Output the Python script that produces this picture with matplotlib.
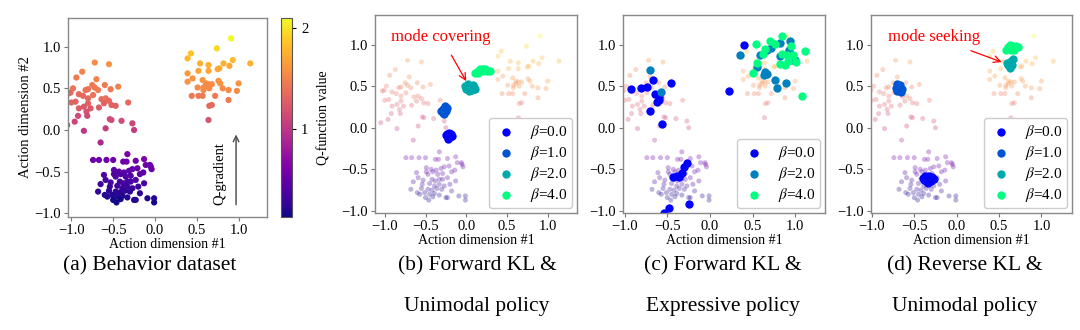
import matplotlib.pyplot as plt
import numpy as np

plt.rcParams["font.family"] = ["Liberation Serif", "DejaVu Serif"]
plt.rcParams["mathtext.fontset"] = "stix"

# -------------------------------------------------------------------
# Behavior dataset, columns: action #1, action #2, Q-value
# -------------------------------------------------------------------
upper_left = np.array([
    [-0.72, 0.81, 1.55], [-0.55, 0.79, 1.60], [-0.87, 0.70, 1.50], [-0.94, 0.63, 1.45],
    [-0.70, 0.61, 1.50], [-0.60, 0.54, 1.45], [-0.75, 0.54, 1.45], [-0.72, 0.51, 1.45],
    [-0.44, 0.52, 1.50], [-0.98, 0.50, 1.40], [-0.83, 0.48, 1.40], [-0.80, 0.49, 1.40],
    [-0.53, 0.49, 1.45], [-1.03, 0.44, 1.35], [-1.01, 0.45, 1.35], [-0.91, 0.43, 1.35],
    [-0.86, 0.41, 1.35], [-0.68, 0.48, 1.45], [-0.80, 0.38, 1.35], [-0.74, 0.42, 1.40],
    [-0.64, 0.37, 1.35], [-0.59, 0.38, 1.40], [-0.55, 0.35, 1.35], [-0.61, 0.32, 1.30],
    [-0.52, 0.30, 1.30], [-0.47, 0.29, 1.30], [-0.32, 0.33, 1.35], [-1.00, 0.33, 1.30],
    [-0.95, 0.34, 1.30], [-0.91, 0.26, 1.25], [-0.85, 0.28, 1.25], [-0.80, 0.32, 1.30],
    [-0.77, 0.26, 1.25], [-0.82, 0.22, 1.20], [-0.67, 0.27, 1.25], [-0.92, 0.17, 1.15],
    [-0.81, 0.17, 1.15], [-0.54, 0.13, 1.15], [-0.52, 0.12, 1.15], [-0.40, 0.11, 1.15],
    [-0.96, 0.10, 1.10], [-1.05, 0.06, 1.05], [-0.27, 0.08, 1.10], [-0.59, 0.02, 1.05],
    [-0.85, -0.01, 1.00], [-0.25, 0.00, 1.05], [-0.65, -0.15, 0.90],
])

upper_right = np.array([
    [0.91, 1.10, 2.10], [0.74, 0.98, 1.95], [0.43, 0.92, 1.85], [0.39, 0.86, 1.80],
    [0.54, 0.80, 1.75], [0.64, 0.78, 1.75], [0.82, 0.80, 1.75], [0.93, 0.84, 1.80],
    [1.14, 0.80, 1.75], [0.89, 0.77, 1.70], [0.77, 0.74, 1.70], [0.75, 0.73, 1.70],
    [0.64, 0.71, 1.70], [0.52, 0.71, 1.70], [0.39, 0.68, 1.65], [0.45, 0.62, 1.60],
    [0.39, 0.58, 1.60], [0.57, 0.60, 1.60], [0.61, 0.56, 1.60], [0.76, 0.59, 1.60],
    [0.78, 0.56, 1.60], [1.00, 0.56, 1.60], [0.51, 0.51, 1.55], [0.58, 0.51, 1.55],
    [0.61, 0.53, 1.55], [0.64, 0.55, 1.55], [0.68, 0.55, 1.55], [0.58, 0.48, 1.55],
    [0.65, 0.50, 1.55], [0.81, 0.50, 1.55], [0.88, 0.48, 1.55], [0.98, 0.47, 1.55],
    [0.44, 0.41, 1.45], [0.52, 0.41, 1.45], [0.57, 0.41, 1.45], [0.72, 0.41, 1.45],
    [0.88, 0.36, 1.45], [0.65, 0.29, 1.35], [0.68, 0.30, 1.35], [0.64, 0.12, 1.20],
])

lower = np.array([
    [-0.33, -0.29, 0.60], [-0.74, -0.36, 0.55], [-0.67, -0.36, 0.55], [-0.58, -0.36, 0.55],
    [-0.50, -0.36, 0.55], [-0.38, -0.38, 0.55], [-0.34, -0.38, 0.55], [-0.23, -0.37, 0.55],
    [-0.13, -0.35, 0.60], [-0.11, -0.42, 0.55], [-0.06, -0.42, 0.55], [-0.49, -0.48, 0.45],
    [-0.43, -0.50, 0.45], [-0.37, -0.51, 0.45], [-0.31, -0.49, 0.45], [-0.27, -0.47, 0.50],
    [-0.21, -0.46, 0.50], [-0.05, -0.44, 0.50], [-0.04, -0.47, 0.50], [-0.61, -0.54, 0.40],
    [-0.49, -0.53, 0.40], [-0.47, -0.56, 0.40], [-0.41, -0.53, 0.40], [-0.35, -0.56, 0.40],
    [-0.29, -0.55, 0.40], [-0.18, -0.53, 0.45], [-0.14, -0.51, 0.45], [-0.59, -0.60, 0.35],
    [-0.53, -0.63, 0.35], [-0.42, -0.62, 0.35], [-0.38, -0.64, 0.35], [-0.33, -0.62, 0.35],
    [-0.29, -0.62, 0.35], [-0.23, -0.60, 0.40], [-0.13, -0.64, 0.35], [-0.65, -0.65, 0.30],
    [-0.54, -0.68, 0.30], [-0.45, -0.67, 0.30], [-0.39, -0.70, 0.30], [-0.33, -0.68, 0.30],
    [-0.27, -0.70, 0.30], [-0.20, -0.68, 0.30], [-0.68, -0.74, 0.25], [-0.55, -0.73, 0.25],
    [-0.47, -0.74, 0.25], [-0.42, -0.75, 0.25], [-0.36, -0.73, 0.25], [-0.30, -0.74, 0.25],
    [-0.18, -0.76, 0.25], [-0.60, -0.78, 0.20], [-0.57, -0.80, 0.20], [-0.51, -0.78, 0.20],
    [-0.45, -0.80, 0.20], [-0.39, -0.79, 0.20], [-0.33, -0.81, 0.20], [-0.50, -0.84, 0.15],
    [-0.46, -0.87, 0.15], [-0.41, -0.83, 0.15], [-0.25, -0.84, 0.20], [-0.23, -0.84, 0.20],
    [-0.09, -0.82, 0.20], [-0.01, -0.82, 0.20], [-0.01, -0.87, 0.15],
])

behavior = np.vstack([upper_left, upper_right, lower])
Q_MIN, Q_MAX = 0.13, 2.1

# -------------------------------------------------------------------
# Policy samples
# -------------------------------------------------------------------
betas_4 = ["0.0", "1.0", "2.0", "4.0"]
betas_3 = ["0.0", "2.0", "4.0"]
colors_4 = ["#0000ff", "#0055d4", "#00aaaa", "#00ff80"]
colors_3 = ["#0000ff", "#0080bf", "#00ff80"]

fwd_uni = [
    np.array([[-0.24, -0.07], [-0.21, -0.06], [-0.19, -0.08], [-0.23, -0.10],
              [-0.20, -0.11], [-0.22, -0.13], [-0.25, -0.09], [-0.18, -0.10]]),
    np.array([[-0.29, 0.18], [-0.27, 0.17], [-0.25, 0.20], [-0.24, 0.24],
              [-0.26, 0.26], [-0.29, 0.22], [-0.31, 0.20], [-0.27, 0.22]]),
    np.array([[-0.02, 0.50], [0.02, 0.52], [0.06, 0.50], [0.10, 0.49], [0.11, 0.46],
              [0.07, 0.45], [0.03, 0.44], [0.00, 0.47], [0.08, 0.51]]),
    np.array([[0.11, 0.66], [0.14, 0.68], [0.17, 0.70], [0.20, 0.71], [0.23, 0.70],
              [0.26, 0.68], [0.29, 0.68], [0.21, 0.68], [0.15, 0.66]]),
]

fwd_expr = [
    np.array([[-0.93, 0.47], [-0.81, 0.48], [-0.74, 0.49], [-0.67, 0.57], [-0.46, 0.54],
              [-0.64, 0.40], [-0.60, 0.37], [-0.62, 0.31], [-0.70, 0.20], [-0.56, 0.04],
              [0.40, 1.00], [0.22, 0.44], [-0.27, -0.42], [-0.30, -0.47], [-0.39, -0.58],
              [-0.33, -0.55], [-0.36, -0.59], [-0.43, -0.59], [-0.25, -0.92],
              [-0.48, -0.97], [-0.54, -1.02], [-0.60, 0.33]]),
    np.array([[-0.70, 0.69], [-0.58, 0.43], [0.35, 0.87], [0.59, 0.88], [0.67, 0.94],
              [0.72, 0.96], [0.82, 1.02], [0.94, 1.04], [0.93, 0.94], [1.00, 0.82],
              [0.96, 0.81], [0.82, 0.86], [0.65, 0.67], [0.64, 0.63], [0.55, 0.73],
              [0.76, 0.57], [0.79, 0.48], [0.89, 0.54], [0.67, 0.64]]),
    np.array([[0.54, 1.01], [0.65, 0.95], [0.71, 1.04], [0.76, 1.01], [0.85, 1.10],
              [0.95, 0.98], [0.84, 0.89], [0.90, 0.87], [0.92, 0.80], [0.82, 0.77],
              [0.88, 0.75], [1.01, 0.79], [1.12, 0.92], [1.08, 0.38], [0.55, 0.78],
              [0.50, 0.66], [0.62, 0.89], [0.98, 0.87]]),
]

rev_uni = [
    np.array([[-0.40, -0.60], [-0.37, -0.58], [-0.33, -0.58], [-0.29, -0.59], [-0.27, -0.62],
              [-0.30, -0.64], [-0.35, -0.65], [-0.38, -0.63], [-0.33, -0.62], [-0.34, -0.67]]),
    np.array([[-0.70, 0.52], [-0.67, 0.51], [-0.72, 0.48], [-0.68, 0.47],
              [-0.65, 0.47], [-0.70, 0.44], [-0.66, 0.43]]),
    np.array([[0.59, 0.78], [0.62, 0.76], [0.64, 0.80], [0.66, 0.83],
              [0.63, 0.72], [0.60, 0.75], [0.65, 0.76]]),
    np.array([[0.58, 0.93], [0.61, 0.97], [0.63, 0.99], [0.66, 0.98],
              [0.70, 0.98], [0.68, 0.94], [0.64, 0.93], [0.72, 0.97]]),
]

captions = [
    ["(a) Behavior dataset"],
    ["(b) Forward KL &", "Unimodal policy"],
    ["(c) Forward KL &", "Expressive policy"],
    ["(d) Reverse KL &", "Unimodal policy"],
]

W, H = 1080, 330


def px_axes(fig, left, right, top, bottom):
    return fig.add_axes([left / W, 1 - bottom / H, (right - left) / W, (bottom - top) / H])


def style(ax, xlim, ylim):
    ax.set_xlim(*xlim)
    ax.set_ylim(*ylim)
    ax.set_xticks([-1.0, -0.5, 0.0, 0.5, 1.0])
    ax.set_yticks([-1.0, -0.5, 0.0, 0.5, 1.0])
    ax.tick_params(labelsize=10.5, length=3, color="#777777", pad=2)
    for s in ax.spines.values():
        s.set_color("#888888")
        s.set_linewidth(1.0)
    ax.set_xlabel("Action dimension #1", fontsize=10, labelpad=1)


def background(ax):
    ax.scatter(behavior[:, 0], behavior[:, 1], c=behavior[:, 2], cmap="plasma",
               vmin=Q_MIN, vmax=Q_MAX, s=13, alpha=0.3, linewidths=0)


def policy(ax, groups, betas, colors):
    for pts, b, c in zip(groups, betas, colors):
        ax.scatter(pts[:, 0], pts[:, 1], color=c, s=36, linewidths=0,
                   label=r"$\beta$=" + b)
    ax.legend(loc="lower right", fontsize=11, handlelength=1.6, handletextpad=0.8,
              borderpad=0.3, labelspacing=0.2, borderaxespad=0.3, fancybox=True,
              framealpha=1, edgecolor="#cccccc")


fig = plt.figure(figsize=(W / 100, H / 100), dpi=100)

# (a) behavior dataset
ax_a = px_axes(fig, 68, 267, 18, 217)
sc = ax_a.scatter(behavior[:, 0], behavior[:, 1], c=behavior[:, 2], cmap="plasma",
                  vmin=Q_MIN, vmax=Q_MAX, s=20, linewidths=0)
style(ax_a, (-1.04, 1.34), (-1.045, 1.345))
ax_a.set_ylabel("Action dimension #2", fontsize=10.5, labelpad=2)
ax_a.annotate("", xy=(0.97, -0.02), xytext=(0.97, -0.93),
              arrowprops=dict(arrowstyle="->", color="#555555", lw=1.1))
ax_a.text(0.78, -0.52, "Q-gradient", rotation=90, fontsize=10.5, ha="center", va="center")

cax = px_axes(fig, 281, 292, 18, 217)
cb = fig.colorbar(sc, cax=cax, ticks=[1, 2])
cb.ax.tick_params(labelsize=10.5, length=3)
cb.outline.set_edgecolor("#555555")
cb.set_label("Q-function value", fontsize=10, labelpad=6)

# (b) forward KL, unimodal
ax_b = px_axes(fig, 375, 577, 15, 213)
background(ax_b)
policy(ax_b, fwd_uni, betas_4, colors_4)
style(ax_b, (-1.12, 1.36), (-1.025, 1.355))
ax_b.annotate("mode covering", xy=(0.0, 0.56), xytext=(-0.31, 1.09), color="red",
              fontsize=12, ha="center", va="center",
              arrowprops=dict(arrowstyle="->", color="red", lw=0.9, shrinkA=6, shrinkB=0))

# (c) forward KL, expressive
ax_c = px_axes(fig, 623, 825, 15, 213)
background(ax_c)
policy(ax_c, fwd_expr, betas_3, colors_3)
style(ax_c, (-1.02, 1.35), (-1.025, 1.355))

# (d) reverse KL, unimodal
ax_d = px_axes(fig, 871, 1072, 15, 213)
background(ax_d)
policy(ax_d, rev_uni, betas_4, colors_4)
style(ax_d, (-1.01, 1.36), (-1.025, 1.355))
ax_d.annotate("mode seeking", xy=(0.53, 0.79), xytext=(-0.27, 1.09), color="red",
              fontsize=12, ha="center", va="center",
              arrowprops=dict(arrowstyle="->", color="red", lw=0.9, shrinkA=6, shrinkB=0))

# captions, one line at a time
for cx, lines in zip([150, 477, 723, 965], captions):
    for i, line in enumerate(lines):
        fig.text(cx / W, 1 - (266 + 40 * i) / H, line, ha="center", va="center",
                 fontsize=15.5)

fig.savefig("out.png", dpi=100)
